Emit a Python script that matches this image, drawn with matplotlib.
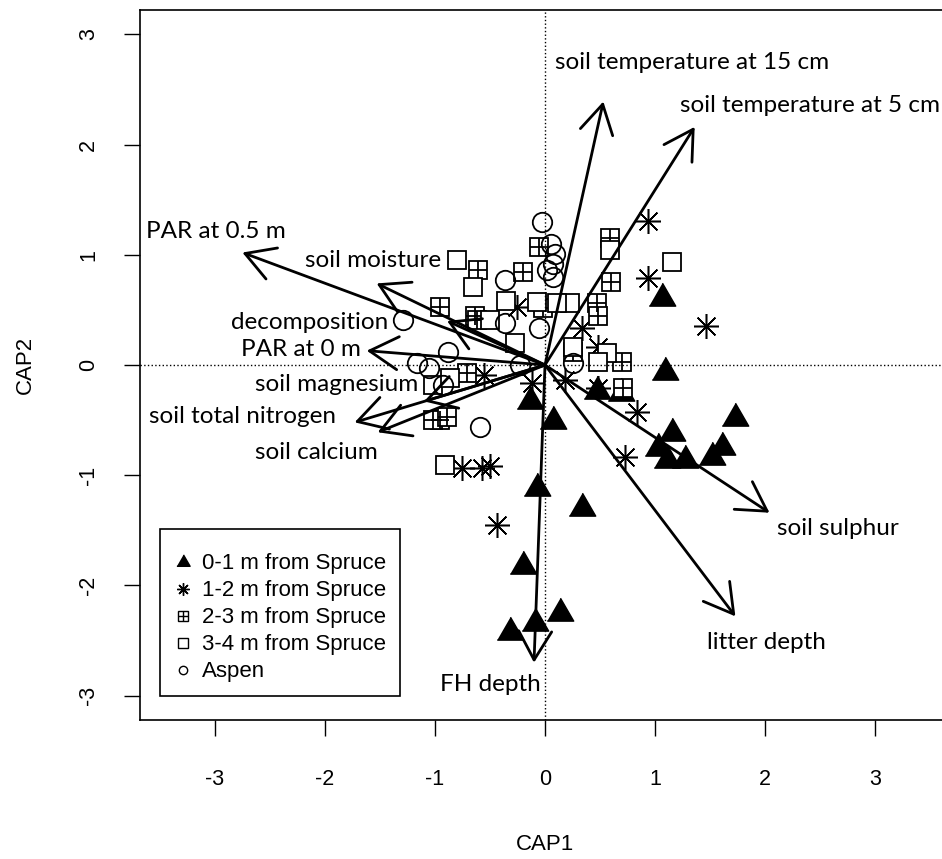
import matplotlib.pyplot as plt
from matplotlib.lines import Line2D
from matplotlib.patches import FancyArrowPatch

# CAP scores
near_x = [1.06, 1.09, 0.47, 0.69, 0.07, -0.14, 1.15, 1.73, 1.03, 1.11, 1.27, 1.61, 1.52, 0.34, -0.07, -0.20, -0.32, -0.09, 0.14]
near_y = [0.61, -0.06, -0.24, -0.25, -0.51, -0.33, -0.62, -0.48, -0.75, -0.86, -0.86, -0.74, -0.83, -1.30, -1.12, -1.82, -2.42, -2.34, -2.25]

m12_x = [0.94, 0.94, 1.46, 0.34, 0.48, 0.18, 0.48, 0.84, 0.73, -0.75, -0.57, -0.50, -0.44, -0.25, -0.55, -0.12]
m12_y = [1.31, 0.79, 0.35, 0.34, 0.16, -0.14, -0.21, -0.43, -0.83, -0.93, -0.93, -0.92, -1.45, 0.53, -0.09, -0.16]

m23_x = [0.59, 0.60, 0.47, 0.48, 0.25, 0.70, 0.71, -0.61, -0.20, -0.05, -0.95, -0.64, -0.02, -0.95, -1.02, -0.89, -0.71, -0.62]
m23_y = [1.15, 0.75, 0.56, 0.44, 0.12, 0.03, -0.21, 0.86, 0.84, 1.07, 0.53, 0.44, 0.52, -0.50, -0.50, -0.47, -0.07, 0.41]

m34_x = [-0.80, -0.65, -0.35, -0.07, -0.27, -0.50, 1.15, 0.59, 0.23, 0.11, 0.25, 0.56, 0.48, -0.91, -1.02, -0.86]
m34_y = [0.95, 0.71, 0.58, 0.57, 0.20, 0.41, 0.93, 1.04, 0.56, 0.56, 0.16, 0.11, 0.03, -0.91, -0.18, -0.12]

aspen_x = [-0.03, 0.05, 0.09, 0.02, 0.07, -0.36, -0.36, -0.05, -0.88, 0.25, -1.29, -1.16, -1.05, -0.93, -0.59, -0.23, 0.07]
aspen_y = [1.30, 1.10, 1.01, 0.86, 0.92, 0.77, 0.38, 0.34, 0.12, 0.02, 0.41, 0.02, -0.03, -0.18, -0.56, 0.00, 0.80]

# environmental vectors
env_names = ['soil temperature at 15 cm', 'soil temperature at 5 cm', 'PAR at 0.5 m', 'soil moisture',
             'decomposition', 'PAR at 0 m', 'soil magnesium', 'soil total nitrogen', 'soil calcium',
             'soil sulphur', 'litter depth', 'FH depth']
env_x = [0.53, 1.36, -2.75, -1.53, -0.89, -1.62, -1.10, -1.73, -1.52, 2.04, 1.73, -0.10]
env_y = [2.39, 2.16, 1.02, 0.74, 0.40, 0.13, -0.33, -0.52, -0.61, -1.34, -2.28, -2.70]
lab_x = [1.34, 2.41, -2.99, -1.56, -2.14, -2.22, -1.89, -2.75, -2.08, 2.66, 2.01, -0.50]
lab_y = [2.74, 2.35, 1.21, 0.95, 0.39, 0.145, -0.18, -0.47, -0.79, -1.48, -2.52, -2.90]

groups = ['0-1 m from Spruce', '1-2 m from Spruce', '2-3 m from Spruce', '3-4 m from Spruce', 'Aspen']

plt.rcParams['font.family'] = ['Liberation Sans', 'DejaVu Sans']
plt.rcParams['axes.unicode_minus'] = False

fig = plt.figure(figsize=(9.42, 8.59), dpi=100)
ax = fig.add_axes([140 / 942, 1 - 720 / 859, 810 / 942, 710 / 859])
ax.set_xlim(-3.68, 3.68)
ax.set_ylim(-3.22, 3.22)

tri = [(-1, -0.577), (1, -0.577), (0, 1.155)]
mew = 1.3
ax.plot(near_x, near_y, ls='none', marker=tri, ms=22, color='black')
ax.plot(m12_x, m12_y, ls='none', marker=(8, 2, 0), ms=18, mew=1.1, color='black')
ax.plot(m23_x, m23_y, ls='none', marker='s', ms=13, mfc='white', mec='black', mew=mew)
ax.plot(m23_x, m23_y, ls='none', marker='+', ms=13, mew=mew, color='black')
ax.plot(m34_x, m34_y, ls='none', marker='s', ms=13, mfc='white', mec='black', mew=mew)
ax.plot(aspen_x, aspen_y, ls='none', marker='o', ms=14, mfc='none', mec='black', mew=mew)

ax.axhline(0, color='black', ls=':', lw=1)
ax.axvline(0, color='black', ls=':', lw=1)

for name, x, y, lx, ly in zip(env_names, env_x, env_y, lab_x, lab_y):
    arr = FancyArrowPatch((0, 0), (x, y), arrowstyle='->,head_length=20.6,head_width=11.9',
                          mutation_scale=1, lw=2, color='black', shrinkA=0, shrinkB=0, zorder=4)
    ax.add_patch(arr)
    ax.text(lx, ly, name, ha='center', va='center', fontsize=17.5, family='Lato', zorder=5)

handles = [
    Line2D([], [], ls='none', marker=tri, ms=11, color='black'),
    Line2D([], [], ls='none', marker=(8, 2, 0), ms=9, mew=1, color='black'),
    (Line2D([], [], ls='none', marker='s', ms=6.5, mfc='white', mec='black', mew=1),
     Line2D([], [], ls='none', marker='+', ms=6.5, mew=1, color='black')),
    Line2D([], [], ls='none', marker='s', ms=6.5, mfc='white', mec='black', mew=1),
    Line2D([], [], ls='none', marker='o', ms=6, mfc='none', mec='black', mew=1),
]
leg = ax.legend(handles, groups, loc='upper left', bbox_to_anchor=(20 / 810, (720 - 529) / 710),
                borderaxespad=0, fontsize=16, frameon=True, fancybox=False, edgecolor='black',
                framealpha=1, handlelength=0.9, handletextpad=0.4, labelspacing=0.27, borderpad=0.6,
                title=' ', title_fontsize=3.5)
leg.get_frame().set_linewidth(1.2)

ax.set_xticks([-3, -2, -1, 0, 1, 2, 3])
ax.set_yticks([-3, -2, -1, 0, 1, 2, 3])
ax.tick_params(length=11.5, width=1, labelsize=15.5)
ax.tick_params(axis='x', pad=23.5)
ax.tick_params(axis='y', pad=18)
plt.setp(ax.get_yticklabels(), rotation=90, va='center')
for s in ax.spines.values():
    s.set_linewidth(1.2)

ax.set_xlabel('CAP1', fontsize=16, va='center')
ax.xaxis.set_label_coords(0.5, -(845 - 720) / 710)
ax.set_ylabel('CAP2', fontsize=16, va='center')
ax.yaxis.set_label_coords((25 - 140) / 810, 0.5)

fig.savefig('out.png', dpi=100)
